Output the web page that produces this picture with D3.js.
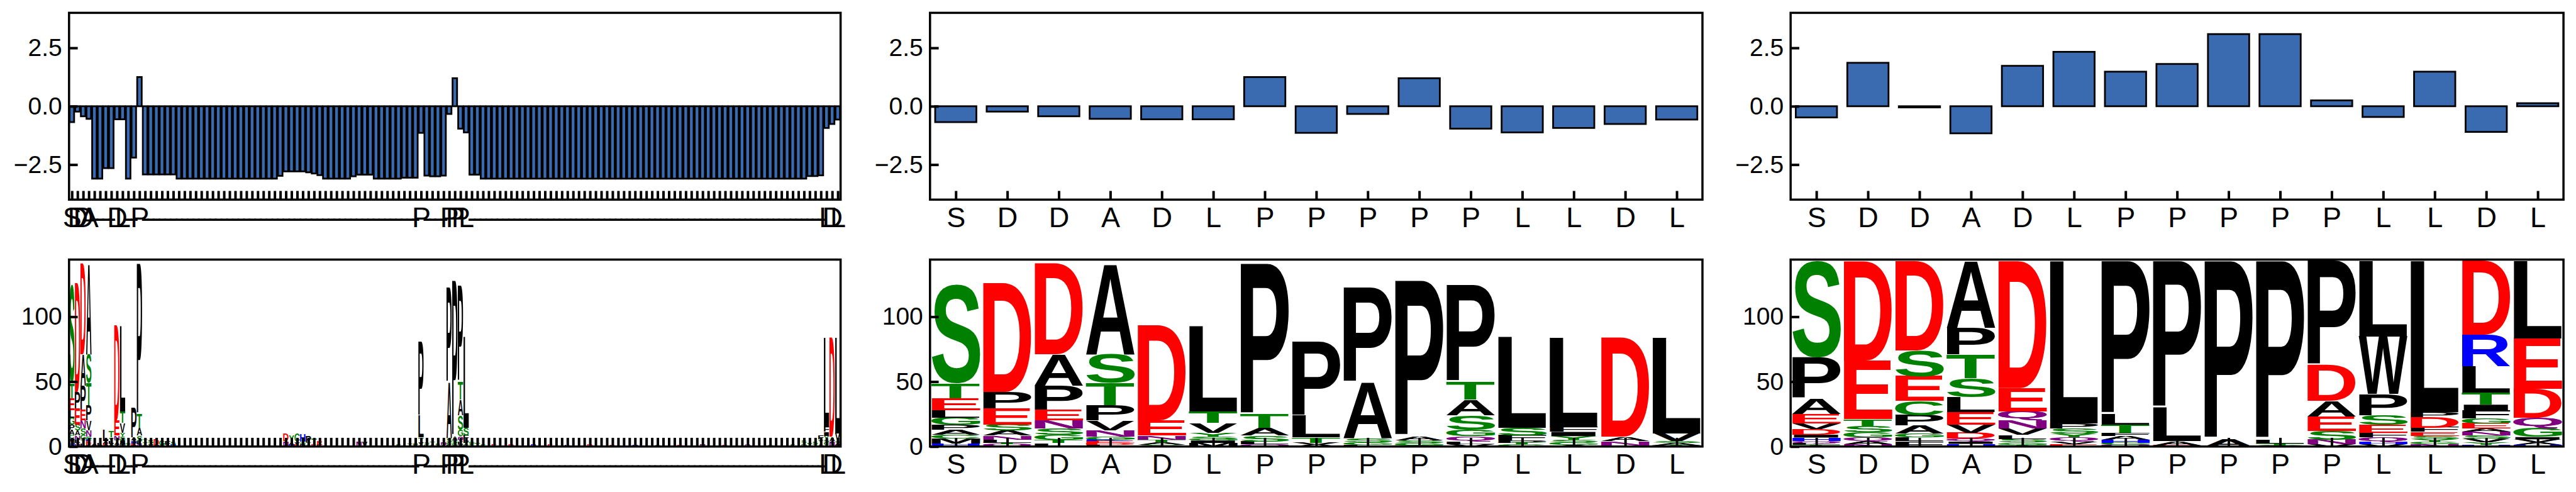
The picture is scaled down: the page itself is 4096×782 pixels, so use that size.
<!DOCTYPE html>
<html><head><meta charset="utf-8">
<script src="https://cdn.jsdelivr.net/npm/d3@7"></script>
<style>body{margin:0;background:#fff;} svg{display:block}</style>
</head><body>
<svg id="chart" width="4096" height="782"></svg>
<script>
// ---------------- DATA ----------------
const sequence = ["S","D","D","A","D","L","P","P","P","P","P","L","L","D","L"];
const alignmentLength = 137;
const residueIndex = [0,1,2,3,8,9,12,62,67,68,69,70,134,135,136];

const alignedScores = [
 -0.68,-0.23,-0.43,-0.54,-3.1,-3.1,-2.65,-2.65,-0.56,-0.56,-3.1,-2.2,1.25,
 -2.92,-2.92,-2.92,-2.92,-2.92,-2.92,
 -3.1,-3.1,-3.1,-3.1,-3.1,-3.1,-3.1,-3.1,-3.1,-3.1,-3.1,-3.1,-3.1,-3.1,-3.1,-3.1,-3.1,-3.1,
 -2.98,-2.79,-2.79,-2.79,-2.79,-2.83,-2.88,-2.95,
 -3.1,-3.1,-3.1,-3.1,-3.1,-3.0,-2.93,-2.93,-2.93,
 -3.1,-3.1,-3.1,-3.1,-3.1,-3.06,-3.06,-3.06,
 -1.14,-2.97,-3.0,-3.0,-2.97,-0.33,1.2,-0.96,-1.12,-2.93,-2.93,
 -3.1,-3.1,-3.1,-3.1,-3.1,-3.1,-3.1,-3.1,-3.1,-3.1,-3.1,-3.1,-3.1,-3.1,-3.1,-3.1,-3.1,-3.1,-3.1,-3.1,
 -3.1,-3.1,-3.1,-3.1,-3.1,-3.1,-3.1,-3.1,-3.1,-3.1,-3.1,-3.1,-3.1,-3.1,-3.1,-3.1,-3.1,-3.1,-3.1,-3.1,
 -3.1,-3.1,-3.1,-3.1,-3.1,-3.1,-3.1,-3.1,-3.1,-3.1,-3.1,-3.1,-3.1,-3.1,-3.1,-3.1,-3.1,-3.1,
 -2.99,-2.99,-2.96,-0.93,-0.76,-0.57
];
const sequenceScores = [-0.68,-0.23,-0.43,-0.54,-0.56,-0.56,1.25,-1.14,-0.33,1.2,-0.96,-1.12,-0.93,-0.76,-0.57];
const variantScores  = [-0.48,1.86,-0.05,-1.16,1.73,2.33,1.48,1.81,3.09,3.09,0.25,-0.46,1.48,-1.1,0.13];

const scoreDomain = [-4, 4];
const scoreTicks = [-2.5, 0, 2.5];
const countDomain = [0, 144];
const countTicks = [0, 50, 100];

// logo stacks, bottom -> top : [letter, count]
const sequenceLogo = [
 [["Q",0.8],["H",1.5],["M",3.6],["C",3.2],["A",3.7],["P",3.7],["G",5.8],["L",5.7],["E",9],["T",11.5],["S",76.3]],
 [["Q",2],["T",1],["L",2.2],["N",3.3],["A",3.7],["S",4.8],["E",12.3],["P",12.7],["D",84]],
 [["L",2.6],["T",2.6],["G",3.9],["S",4.9],["N",6],["E",8],["P",19],["A",24],["D",70]],
 [["L",1.4],["D",1.2],["E",1.6],["K",1.0],["G",2.2],["N",5.2],["V",7.4],["P",12],["T",17],["S",22],["A",70]],
 [["S",1.5],["A",1.9],["T",1.8],["N",3.3],["E",11.5],["D",73]],
 [["M",2.8],["I",1.8],["G",1.2],["S",1.8],["Y",3],["V",7.6],["T",8.7],["L",66]],
 [["Q",1.8],["L",2.1],["S",4.5],["A",5.9],["T",10.4],["P",116.3]],
 [["A",1.5],["V",1.5],["T",4],["L",17],["P",57]],
 [["L",1.2],["G",1.8],["S",3.3],["A",43.3],["P",73]],
 [["T",1],["G",1.6],["S",2],["A",3.3],["P",120]],
 [["V",2],["L",1.9],["Q",4.1],["G",5],["S",11],["A",12],["T",14],["P",74]],
 [["G",1.6],["T",1],["P",1.8],["F",4.3],["S",5.5],["L",70]],
 [["A",1.2],["G",2],["S",1.8],["Y",3],["I",3.3],["F",3.7],["L",69]],
 [["E",0.8],["N",3.3],["A",3.3],["D",76.6]],
 [["T",1],["A",1.5],["S",1.5],["V",6.2],["L",73.8]]
];
const variantLogo = [
 [["T",1.2],["L",1.4],["Q",1.6],["H",2.7],["I",2.2],["D",4.3],["V",4.5],["E",7.3],["A",12],["P",31.4],["S",74.4]],
 [["N",1.8],["A",2.4],["Q",3.1],["G",3.7],["S",5],["T",5],["E",45.4],["D",76.6]],
 [["F",4],["L",3],["G",3],["A",6],["P",8],["C",11],["E",19],["S",20],["D",69]],
 [["H",2],["I",1.8],["Q",2.2],["D",4.6],["V",6],["E",9.8],["L",11.6],["S",14.6],["T",18.3],["P",20.7],["A",51.4]],
 [["T",1.5],["G",1.5],["S",2.9],["L",3.1],["V",5],["N",6],["Q",7],["E",18],["D",98]],
 [["E",2],["V",2],["Q",3],["Y",3],["S",4],["P",3.8],["L",125.2]],
 [["Q",1.3],["G",1.7],["H",2.4],["A",2.8],["F",2.5],["T",6],["L",8.2],["P",118.1]],
 [["E",1],["A",3],["L",26],["P",113]],
 [["A",5.7],["P",137.3]],
 [["G",1],["T",1.5],["L",3],["P",137.5]],
 [["V",1.8],["N",3.4],["S",6.8],["E",11],["A",12],["D",27.6],["P",80.4]],
 [["V",1.6],["H",1.6],["Q",3.7],["F",3.7],["E",6],["S",7.4],["P",16.4],["W",44.4],["L",58.2]],
 [["N",2],["G",1.8],["Y",1.8],["S",2.5],["E",3.1],["F",3.4],["D",8],["P",3.8],["L",116.6]],
 [["H",1.3],["Y",1.8],["V",3.1],["S",2.4],["N",3.1],["A",2.2],["E",4],["G",3.5],["F",6],["I",4.9],["T",9.1],["L",20.5],["R",24],["D",57.1]],
 [["H",1.3],["A",1.8],["V",2.4],["I",1.8],["G",7],["Q",8],["D",22],["E",39],["L",59.7]]
];
// small stacks at gap positions of the full alignment: [alignment index, stack]
const gapLogo = [
 [4,[["S",0.8],["A",1.2]]],[5,[["E",1],["L",1.5]]],
 [6,[["V",1.2],["E",1.3],["A",1.5],["L",8.8]]],
 [7,[["S",1],["V",1.5],["L",1.8],["Y",2.7],["T",4.9]]],
 [10,[["A",1.2],["S",1]]],
 [11,[["R",1],["E",1.5],["H",2],["A",2.5],["P",23]]],
 [13,[["S",1.5],["Y",2],["T",2]]],[14,[["V",2],["S",3]]],[15,[["N",1],["D",5]]],
 [16,[["S",1],["G",4]]],[17,[["A",1.5],["F",3]]],[18,[["H",1.5],["S",2.5]]],
 [38,[["S",1],["N",3],["D",5.5]]],[39,[["H",1.5],["A",2],["Y",5]]],
 [40,[["E",1.5],["V",2],["C",6]]],[41,[["P",2],["G",1.5],["H",5.5]]],
 [42,[["S",1.5],["T",1.8],["P",5]]],[43,[["E",1.5],["T",5]]],[44,[["L",1.5],["E",3]]],
 [51,[["N",3.5]]],[52,[["V",3.5]]],
 [58,[["S",2]]],[60,[["T",2.5]]],[61,[["V",1.5],["S",1.5]]],[63,[["G",2],["S",1.5]]],
 [64,[["A",2],["T",1.5]]],[65,[["S",2.5]]],[66,[["G",1.5],["N",1.5]]],
 [71,[["S",2.5],["G",1]]],[72,[["T",3]]],[73,[["S",2]]],[75,[["E",1.5]]],[78,[["D",1.5]]],
 [82,[["R",1.5]]],[85,[["E",1.5]]],[88,[["K",1.2]]],[92,[["D",1.5]]],[96,[["E",1.2]]],
 [100,[["H",1.2]]],[104,[["S",1.5]]],[108,[["E",1.2]]],[112,[["N",1.5]]],[116,[["D",1.2]]],
 [120,[["Q",1.5]]],[124,[["S",1.2]]],[128,[["S",2]]],[130,[["G",2.5],["S",2]]],
 [131,[["Y",3]]],[132,[["T",2],["S",2]]],[133,[["A",2.5],["Y",3],["F",3]]]
];

const letterColor = {};
"GSTYC".split("").forEach(c => letterColor[c] = "#008000");
"NQ".split("").forEach(c => letterColor[c] = "#800080");
"KRH".split("").forEach(c => letterColor[c] = "#0000ff");
"DE".split("").forEach(c => letterColor[c] = "#ff0000");
const barColor = "#3a6ab0";

// ---------------- LAYOUT ----------------
const colX = [[109.8, 1336.6], [1478.8, 2707.0], [2847.2, 4076.1]];
const rowY = [[20.4, 317.3], [412.6, 709.7]];
const spineW = 3.5, tickW = 4, tickLen = 13.8, barStroke = 2.8;
const xFont = 45, yFont = 39, xLabelOffset = 43.3;
const FONT = "Liberation Sans, Arial, sans-serif";

const svg = d3.select("#chart");

const alignedLabels = d3.range(alignmentLength).map(i => {
  const k = residueIndex.indexOf(i); return k >= 0 ? sequence[k] : "-";
});

function axes(g, x, y, n, labels, yTicks, yFmt, box) {
  const [x0, x1, y0, y1] = box;
  g.append("g").attr("transform", `translate(0,${y1})`)
    .call(d3.axisBottom(x).tickValues(d3.range(n)).tickSize(-tickLen).tickFormat(i => labels[i]))
    .call(a => a.select(".domain").remove())
    .call(a => a.selectAll("line").attr("stroke-width", tickW).attr("stroke", "#000"))
    .call(a => a.selectAll("text").attr("y", xLabelOffset).attr("dy", null)
        .attr("font-size", xFont).attr("font-family", FONT).attr("fill", "#000"));
  g.append("g").attr("transform", `translate(${x0},0)`)
    .call(d3.axisLeft(y).tickValues(yTicks).tickSize(-tickLen).tickPadding(11).tickFormat(yFmt))
    .call(a => a.select(".domain").remove())
    .call(a => a.selectAll("line").attr("stroke-width", tickW).attr("stroke", "#000"))
    .call(a => a.selectAll("text").attr("font-size", yFont).attr("font-family", FONT).attr("fill", "#000"));
  g.append("rect").attr("x", x0).attr("y", y0).attr("width", x1 - x0).attr("height", y1 - y0)
    .attr("fill", "none").attr("stroke", "#000").attr("stroke-width", spineW);
}

function barPanel(col, values, labels) {
  const [x0, x1] = colX[col], [y0, y1] = rowY[0];
  const n = values.length;
  const x = d3.scaleLinear().domain([-0.5, n - 0.5]).range([x0, x1]);
  const y = d3.scaleLinear().domain(scoreDomain).range([y1, y0]);
  const g = svg.append("g");
  g.selectAll("rect.bar").data(values).join("rect").attr("class", "bar")
    .attr("x", (d, i) => x(i - 0.4)).attr("width", x(0.4) - x(-0.4))
    .attr("y", d => y(Math.max(d, 0))).attr("height", d => Math.abs(y(d) - y(0)))
    .attr("fill", barColor).attr("stroke", "#000").attr("stroke-width", barStroke);
  axes(g, x, y, n, labels, scoreTicks, d3.format(".1f"), [x0, x1, y0, y1]);
}

const ctx = document.createElement("canvas").getContext("2d");
ctx.font = `bold 100px "Liberation Sans"`;
const metricCache = {};
function glyph(ch) {
  if (!metricCache[ch]) {
    const m = ctx.measureText(ch);
    metricCache[ch] = {l: m.actualBoundingBoxLeft, r: m.actualBoundingBoxRight,
                       a: m.actualBoundingBoxAscent, d: m.actualBoundingBoxDescent};
  }
  return metricCache[ch];
}

function logoPanel(col, stacks, labels) {
  const [x0, x1] = colX[col], [y0, y1] = rowY[1];
  const n = stacks.length;
  const x = d3.scaleLinear().domain([-0.5, n - 0.5]).range([x0, x1]);
  const y = d3.scaleLinear().domain(countDomain).range([y1, y0]);
  const g = svg.append("g");
  const items = [];
  stacks.forEach((stack, i) => {
    let cum = 0;
    (stack || []).forEach(([ch, h]) => { items.push({i, ch, lo: cum, hi: cum + h}); cum += h; });
  });
  const gl = g.append("g").attr("clip-path", `url(#clip${col})`);
  svg.append("clipPath").attr("id", `clip${col}`).append("rect")
    .attr("x", x0).attr("y", y0).attr("width", x1 - x0).attr("height", y1 - y0);
  gl.selectAll("text").data(items).join("text")
    .attr("font-family", "Liberation Sans").attr("font-weight", "bold").attr("font-size", 100)
    .attr("fill", d => letterColor[d.ch] || "#000")
    .attr("transform", d => {
      const m = glyph(d.ch);
      const bx = x(d.i - 0.475), bw = x(d.i + 0.475) - bx;
      const by = y(d.hi), bh = y(d.lo) - by;
      const sx = bw / (m.l + m.r), sy = bh / (m.a + m.d);
      return `translate(${bx},${by}) scale(${sx},${sy}) translate(${m.l},${m.a})`;
    })
    .text(d => d.ch);
  axes(g, x, y, n, labels, countTicks, d3.format("d"), [x0, x1, y0, y1]);
}

// full alignment stacks
const alignedLogo = d3.range(alignmentLength).map(() => []);
residueIndex.forEach((idx, k) => alignedLogo[idx] = sequenceLogo[k]);
gapLogo.forEach(([idx, st]) => alignedLogo[idx] = st);

barPanel(0, alignedScores, alignedLabels);
barPanel(1, sequenceScores, sequence);
barPanel(2, variantScores, sequence);
logoPanel(0, alignedLogo, alignedLabels);
logoPanel(1, sequenceLogo, sequence);
logoPanel(2, variantLogo, sequence);
</script>
</body></html>
